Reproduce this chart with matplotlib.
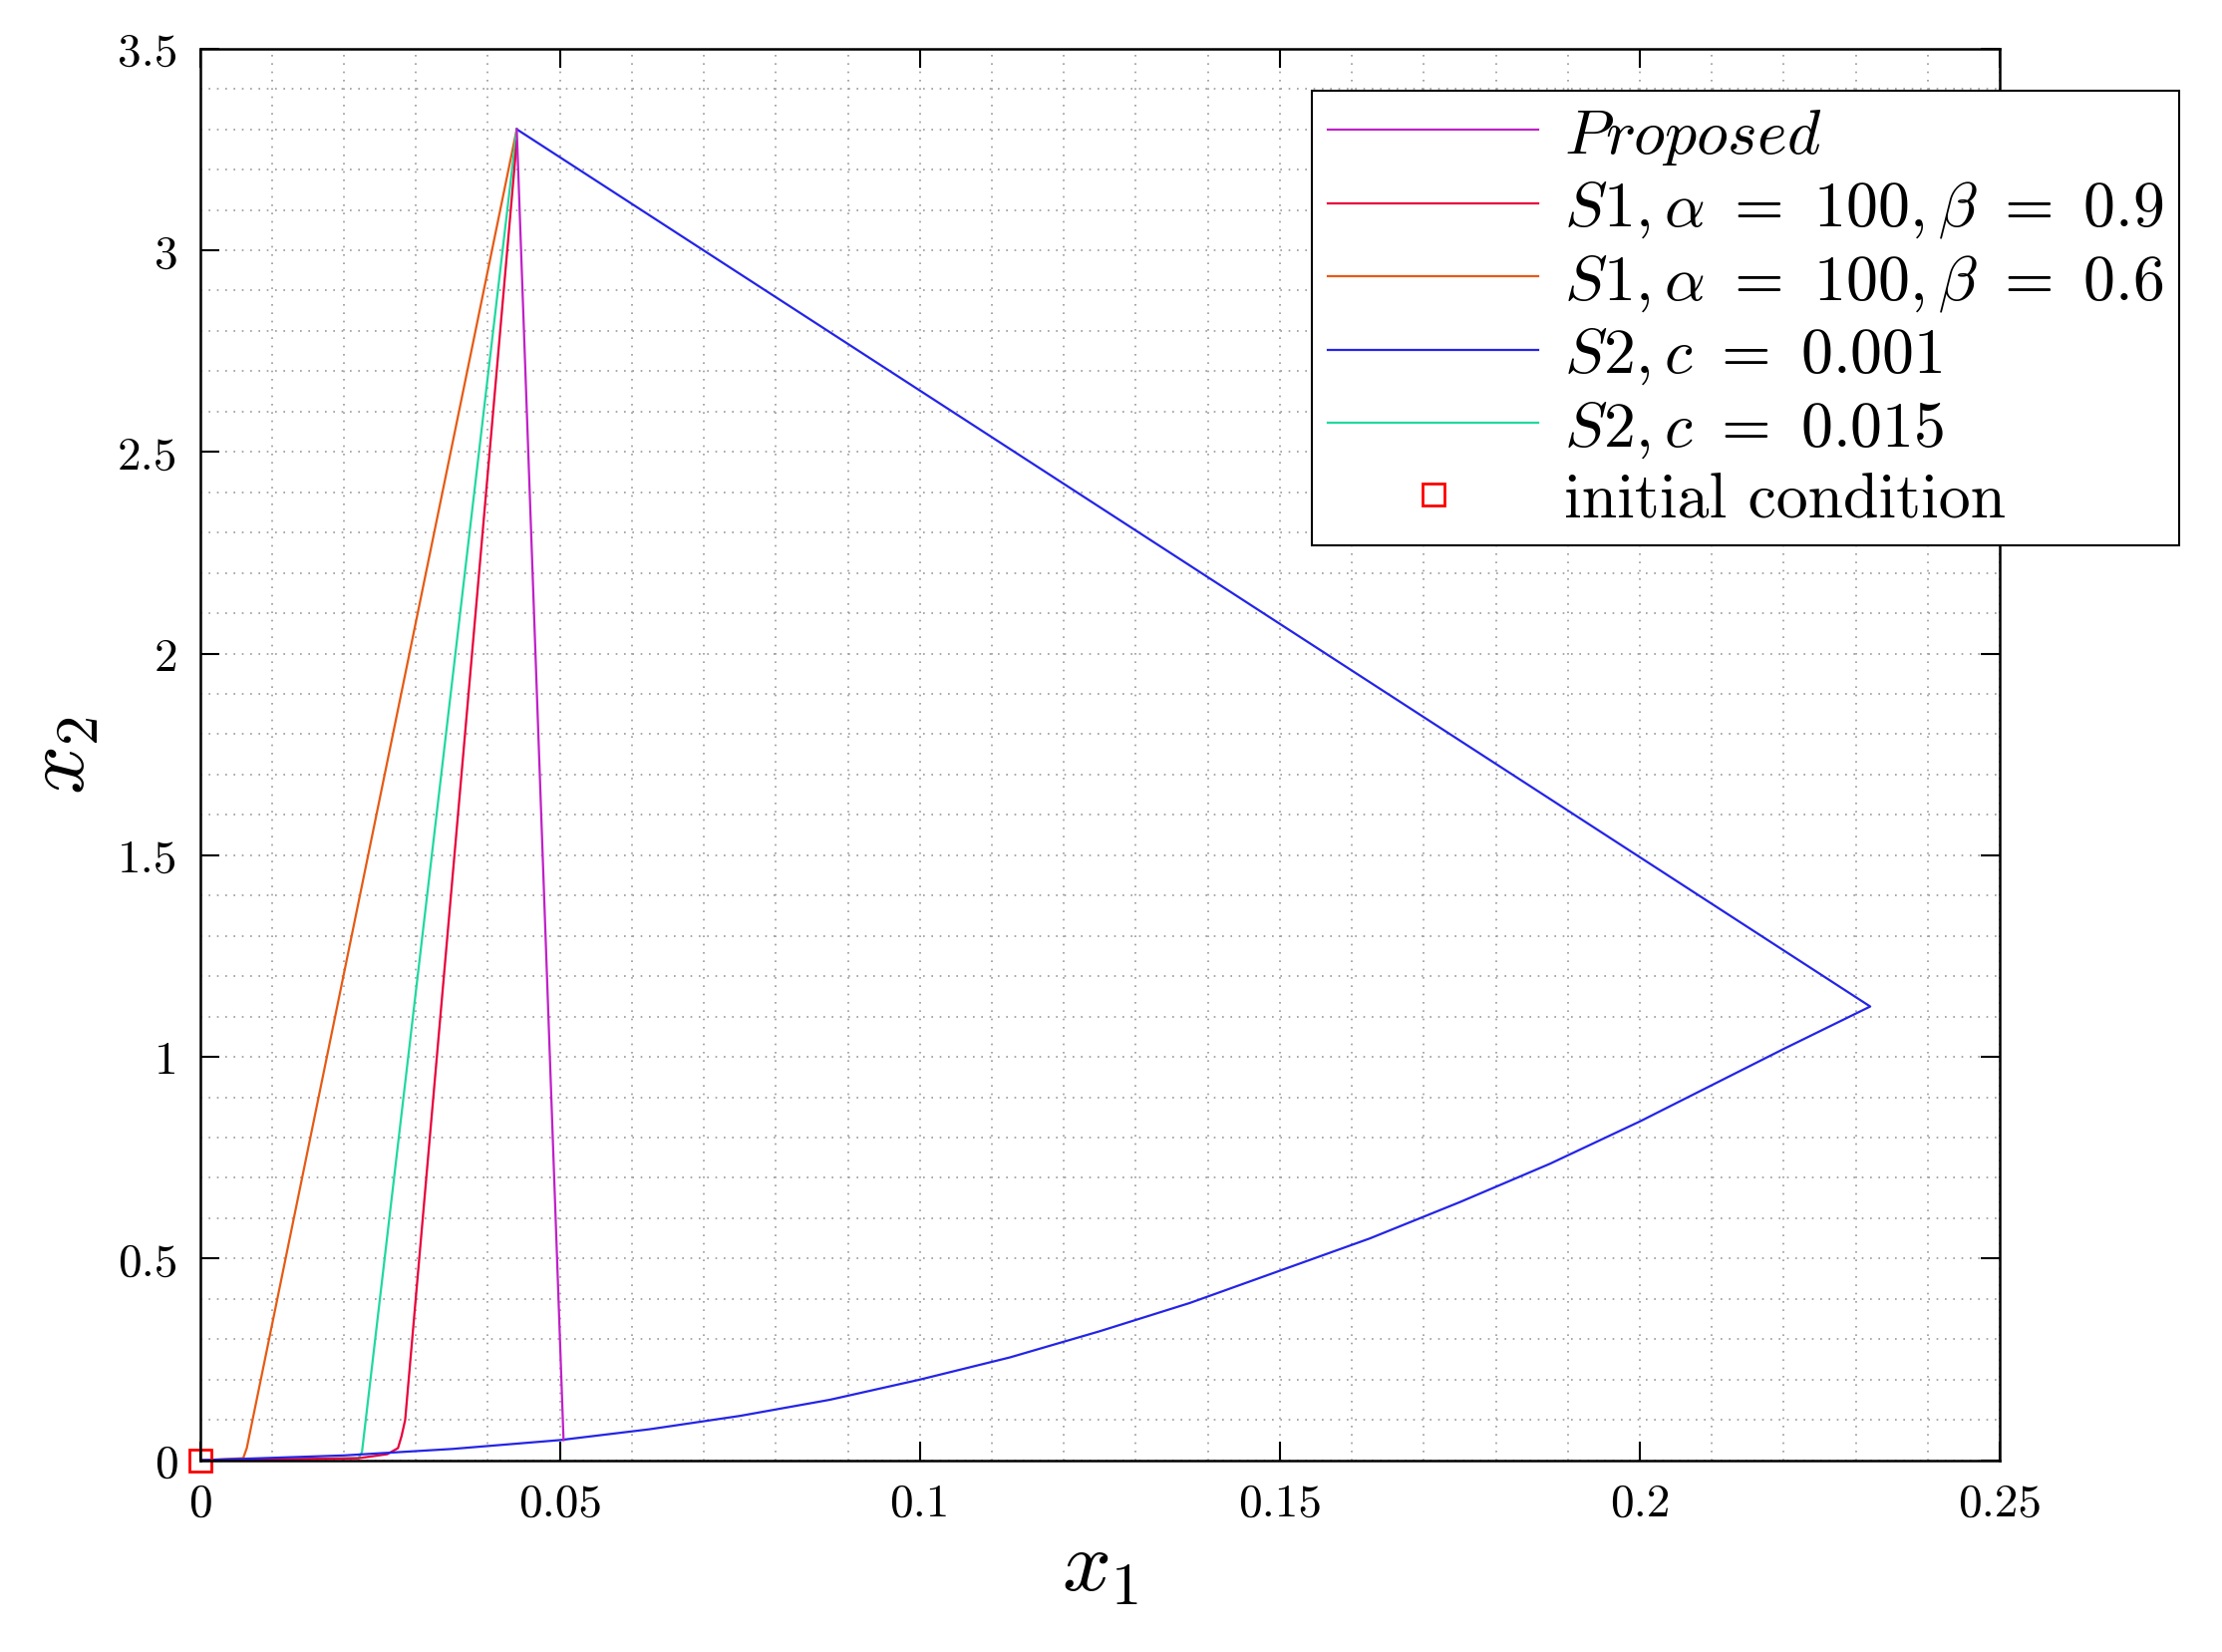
import matplotlib
matplotlib.use("Agg")
import matplotlib.pyplot as plt

plt.rcParams['font.family'] = 'serif'
plt.rcParams['font.serif'] = ['cmr10', 'DejaVu Serif']
plt.rcParams['mathtext.fontset'] = 'cm'
plt.rcParams['axes.formatter.use_mathtext'] = True

# trajectories
prop_x = [0.044, 0.0505]
prop_y = [3.3, 0.05]
s1a_x = [0.0, 0.022, 0.026, 0.0275, 0.028, 0.0285, 0.044]
s1a_y = [0.0, 0.005, 0.015, 0.03, 0.06, 0.1, 3.27]
s1b_x = [0.0, 0.006, 0.0065, 0.044]
s1b_y = [0.0, 0.005, 0.03, 3.3]
s2a_x = [0.0, 0.02, 0.035, 0.05, 0.0625, 0.075, 0.0875, 0.1, 0.1125, 0.125, 0.1375,
         0.15, 0.1625, 0.175, 0.1875, 0.2, 0.21, 0.22, 0.232, 0.044]
s2a_y = [0.0, 0.012, 0.028, 0.05, 0.077, 0.11, 0.15, 0.2, 0.255, 0.32, 0.39,
         0.47, 0.55, 0.64, 0.735, 0.84, 0.93, 1.02, 1.125, 3.3]
s2b_x = [0.0, 0.022, 0.0225, 0.044]
s2b_y = [0.0, 0.005, 0.02, 3.3]
xticks = [0, 0.05, 0.1, 0.15, 0.2, 0.25]
xtick_labels = ['0', '0.05', '0.1', '0.15', '0.2', '0.25']
yticks = [0, 0.5, 1, 1.5, 2, 2.5, 3, 3.5]
ytick_labels = ['0', '0.5', '1', '1.5', '2', '2.5', '3', '3.5']

fig = plt.figure(figsize=(22.29, 16.58), dpi=100)
ax = fig.add_axes([0.09, 0.116, 0.81, 0.854])
lw = 1.6
ax.plot(s1b_x, s1b_y, color='#e65a14', lw=lw)
ax.plot(s2b_x, s2b_y, color='#20d8a0', lw=lw)
ax.plot(s1a_x, s1a_y, color='#e8003a', lw=lw)
ax.plot(s2a_x, s2a_y, color='#2424e8', lw=lw)
ax.plot(prop_x, prop_y, color='#c020c8', lw=lw)

# legend handles in reference order
h1, = ax.plot([], [], color='#c020c8', lw=lw, label=r'$Proposed$')
h2, = ax.plot([], [], color='#e8003a', lw=lw, label=r'$S1,\alpha\ =\ 100,\beta\ =\ 0.9$')
h3, = ax.plot([], [], color='#e65a14', lw=lw, label=r'$S1,\alpha\ =\ 100,\beta\ =\ 0.6$')
h4, = ax.plot([], [], color='#2424e8', lw=lw, label=r'$S2,c\ =\ 0.001$')
h5, = ax.plot([], [], color='#20d8a0', lw=lw, label=r'$S2,c\ =\ 0.015$')
h6, = ax.plot([0], [0], 's', mfc='none', mec='red', ms=16, mew=2, label='initial condition', clip_on=False)

ax.set_xlim(0, 0.25)
ax.set_ylim(0, 3.5)
ax.set_xticks(xticks)
ax.set_xticklabels(xtick_labels)
ax.set_yticks(yticks)
ax.set_yticklabels(ytick_labels)
ax.set_xticks([i * 0.01 for i in range(26)], minor=True)
ax.set_yticks([i * 0.1 for i in range(36)], minor=True)
ax.grid(which='both', color='#999999', linestyle=(0, (1, 4)), lw=1.2)
ax.tick_params(which='major', direction='in', length=14, width=1.5, top=True, right=True, labelsize=34, pad=16)
ax.tick_params(which='minor', length=0)
for s in ax.spines.values():
    s.set_linewidth(1.8)
ax.set_xlabel(r'$x_1$', fontsize=62, labelpad=4)
ax.set_ylabel(r'$x_2$', fontsize=62, labelpad=12)

leg = ax.legend(handles=[h1, h2, h3, h4, h5, h6], loc='upper right',
                bbox_to_anchor=(0.995, 0.964), bbox_transform=fig.transFigure,
                fontsize=46, fancybox=False, framealpha=1, edgecolor='black',
                handlelength=3.3, borderpad=0.25, labelspacing=0.2, handletextpad=0.4)
leg.get_frame().set_linewidth(1.5)

fig.savefig('out.png', dpi=100)
